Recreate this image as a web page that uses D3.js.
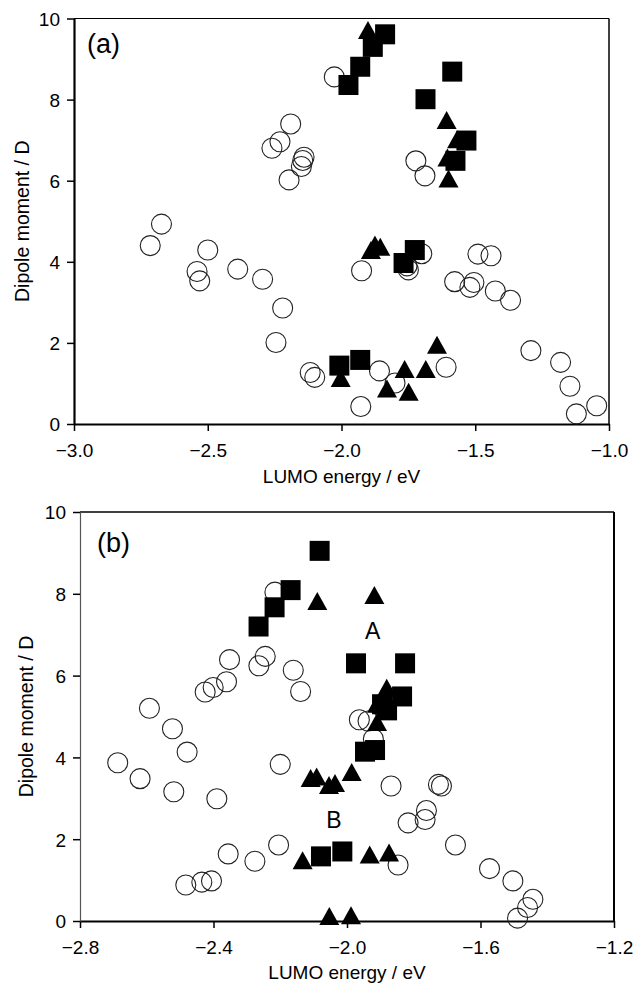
<!DOCTYPE html>
<html>
<head>
<meta charset="utf-8">
<script src="https://cdn.jsdelivr.net/npm/d3@7"></script>
<style>
html,body{margin:0;padding:0;background:#fff;}
svg{display:block;}
text{font-family:"Liberation Sans",Arial,sans-serif;fill:#000;}
</style>
</head>
<body>
<svg id="chart" width="637" height="983"></svg>
<script>
// ---------- data ----------
const xTicksA = [-3.0, -2.5, -2.0, -1.5, -1.0];
const xTicksB = [-2.8, -2.4, -2.0, -1.6, -1.2];
const yTicks = [0, 2, 4, 6, 8, 10];

// panel (a)
const aCircles = [[-2.027,8.56],[-2.19,7.40],[-2.23,6.96],[-2.26,6.80],[-2.14,6.58],[-2.145,6.50],[-2.15,6.35],[-2.196,6.02],
  [-1.722,6.49],[-1.688,6.12],[-2.673,4.93],[-2.715,4.40],[-2.50,4.29],[-2.54,3.76],[-2.53,3.53],[-2.388,3.82],[-2.295,3.57],
  [-2.22,2.86],[-2.245,2.01],[-2.117,1.27],[-2.10,1.15],[-1.925,3.78],[-1.75,3.80],[-1.755,3.90],[-1.70,4.20],[-1.858,1.31],
  [-1.928,0.43],[-1.80,1.01],[-1.609,1.40],[-1.577,3.51],[-1.505,3.49],[-1.52,3.37],[-1.49,4.19],[-1.441,4.15],[-1.425,3.28],
  [-1.368,3.05],[-1.292,1.81],[-1.181,1.52],[-1.146,0.93],[-1.122,0.25],[-1.046,0.45]];
const aSquares = [[-1.837,9.61],[-1.883,9.30],[-1.93,8.81],[-1.974,8.36],[-1.586,8.69],[-1.686,8.01],[-1.533,6.99],[-1.574,6.49],
  [-1.726,4.29],[-1.768,3.97],[-2.008,1.44],[-1.93,1.58]];
const aTriangles = [[-1.901,9.64],[-1.607,7.42],[-1.568,6.95],[-1.604,6.50],[-1.600,5.98],[-1.875,4.35],[-1.855,4.30],[-1.89,4.22],
  [-2.003,1.06],[-1.643,1.88],[-1.764,1.28],[-1.685,1.28],[-1.83,0.80],[-1.749,0.72]];

// panel (b)
const bCircles = [[-2.216,8.04],[-2.352,6.39],[-2.245,6.47],[-2.264,6.24],[-2.161,6.13],[-2.139,5.61],[-2.361,5.85],[-2.401,5.71],
  [-2.425,5.60],[-2.592,5.20],[-2.523,4.70],[-2.479,4.13],[-2.687,3.87],[-2.62,3.48],[-2.519,3.16],[-2.39,2.99],[-2.2,3.83],
  [-1.963,4.92],[-1.937,4.89],[-1.921,4.45],[-1.868,3.30],[-1.726,3.34],[-1.717,3.30],[-1.762,2.70],[-1.766,2.48],[-1.817,2.40],
  [-1.675,1.86],[-1.847,1.37],[-2.205,1.86],[-2.356,1.64],[-2.276,1.46],[-2.483,0.88],[-2.435,0.95],[-2.406,0.98],[-1.573,1.28],
  [-1.503,0.98],[-1.443,0.53],[-1.459,0.33],[-1.489,0.07]];
const bSquares = [[-2.082,9.05],[-2.169,8.09],[-2.217,7.67],[-2.265,7.20],[-1.973,6.30],[-1.826,6.30],[-1.835,5.49],[-1.895,5.30],
  [-1.88,5.15],[-1.946,4.14],[-1.916,4.18],[-2.078,1.58],[-2.014,1.70]];
const bTriangles = [[-2.089,7.75],[-1.918,7.90],[-1.881,5.63],[-1.91,5.24],[-1.91,4.79],[-2.109,3.42],[-2.091,3.46],[-2.054,3.25],
  [-2.036,3.30],[-1.986,3.57],[-2.133,1.41],[-1.932,1.55],[-1.874,1.60],[-2.053,0.05],[-1.988,0.07]];
const bLabels = [{t:"A", x:-1.923, y:7.1},{t:"B", x:-2.039, y:2.48}];

const xTitle = "LUMO energy / eV";
const yTitle = "Dipole moment / D";

// ---------- drawing ----------
const svg = d3.select("#chart");
const fmt = v => d3.format(".1f")(v).replace("-", "\u2212");

function panel(cfg) {
  const x = d3.scaleLinear().domain(cfg.xDomain).range(cfg.xRange);
  const y = d3.scaleLinear().domain([0, 10]).range(cfg.yRange);
  const g = svg.append("g");
  const [x0, x1] = cfg.xRange, [y0, y1] = cfg.yRange;

  // frame: top and right
  g.append("line").attr("x1", x0).attr("x2", x1).attr("y1", y1).attr("y2", y1)
    .attr("stroke", "#000").attr("stroke-width", cfg.topW);
  g.append("line").attr("x1", x1).attr("x2", x1).attr("y1", y1).attr("y2", y0)
    .attr("stroke", "#000").attr("stroke-width", cfg.rightW);

  // axes
  const xa = g.append("g").attr("transform", `translate(0,${y0})`)
    .call(d3.axisBottom(x).tickValues(cfg.xTicks).tickFormat(fmt).tickSize(7).tickSizeOuter(0).tickPadding(6));
  xa.select(".domain").attr("stroke", "#000").attr("stroke-width", 2.2);
  xa.selectAll(".tick line").attr("stroke", "#000").attr("stroke-width", 1.5);
  xa.selectAll(".tick text").attr("font-size", 19).attr("font-family", "Liberation Sans, Arial, sans-serif")
    .attr("dy", null).attr("y", cfg.xLabelDy).attr("dominant-baseline", "central");

  const ya = g.append("g").attr("transform", `translate(${x0},0)`)
    .call(d3.axisLeft(y).tickValues(yTicks).tickFormat(d3.format("d")).tickSize(7).tickSizeOuter(0).tickPadding(7));
  ya.select(".domain").attr("stroke", cfg.leftColor).attr("stroke-width", cfg.leftW);
  ya.selectAll(".tick line").attr("stroke", "#000").attr("stroke-width", 1.5);
  ya.selectAll(".tick text").attr("font-size", 19).attr("font-family", "Liberation Sans, Arial, sans-serif")
    .attr("dy", "0.36em");

  // titles
  g.append("text").attr("x", (x0 + x1) / 2).attr("y", cfg.xTitleY).attr("text-anchor", "middle")
    .attr("dominant-baseline", "central").attr("font-size", 19).text(xTitle);
  g.append("text").attr("transform", `translate(${cfg.yTitleX},${(y0 + y1) / 2}) rotate(-90)`)
    .attr("text-anchor", "middle").attr("dominant-baseline", "central").attr("font-size", 19.5).text(yTitle);
  g.append("text").attr("x", cfg.tagX).attr("y", cfg.tagY).attr("dominant-baseline", "central")
    .attr("font-size", 27).text(cfg.tag);

  // markers
  g.append("g").selectAll("circle").data(cfg.circles).join("circle")
    .attr("cx", d => x(d[0])).attr("cy", d => y(d[1])).attr("r", 10)
    .attr("fill", "none").attr("stroke", "#222").attr("stroke-width", 1.1);
  g.append("g").selectAll("path").data(cfg.triangles).join("path")
    .attr("d", d => { const cx = x(d[0]), cy = y(d[1]);
      return `M${cx},${cy - 12}L${cx + 10},${cy + 6}L${cx - 10},${cy + 6}Z`; })
    .attr("fill", "#000");
  g.append("g").selectAll("rect").data(cfg.squares).join("rect")
    .attr("x", d => x(d[0]) - 10).attr("y", d => y(d[1]) - 10).attr("width", 20).attr("height", 20)
    .attr("fill", "#000");

  if (cfg.labels) {
    g.append("g").selectAll("text").data(cfg.labels).join("text")
      .attr("x", d => x(d.x)).attr("y", d => y(d.y)).attr("text-anchor", "middle")
      .attr("dominant-baseline", "central").attr("font-size", 23).text(d => d.t);
  }
}

panel({
  xDomain: [-3, -1], xRange: [74, 609], yRange: [424, 18.5], xTicks: xTicksA,
  circles: aCircles, squares: aSquares, triangles: aTriangles,
  topW: 1, rightW: 1.5, leftW: 2.2, leftColor: "#000",
  xLabelDy: 26, xTitleY: 476, yTitleX: 22, tag: "(a)", tagX: 87, tagY: 44
});
panel({
  xDomain: [-2.8, -1.2], xRange: [80, 614], yRange: [921, 512], xTicks: xTicksB,
  circles: bCircles, squares: bSquares, triangles: bTriangles, labels: bLabels,
  topW: 1.5, rightW: 2, leftW: 1.2, leftColor: "#555",
  xLabelDy: 26, xTitleY: 972, yTitleX: 26, tag: "(b)", tagX: 97, tagY: 543
});
</script>
</body>
</html>
